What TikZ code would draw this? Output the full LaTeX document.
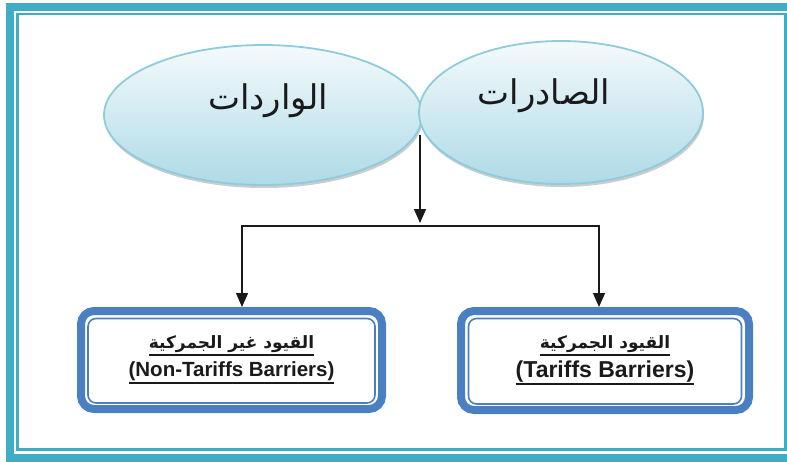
\documentclass[tikz,border=0pt]{standalone}
\usepackage{fontspec}
\usetikzlibrary{shapes.geometric,shadows,arrows.meta,calc}
\TeXXeTstate=1
\newfontfamily\arabicfont[Script=Arabic]{DejaVu Sans}
\newfontfamily\latinfont{Liberation Sans}
% underline with a heavier bar
\newcommand{\barline}[1]{\vtop{\hbox{#1}\kern1.2pt\hrule height 1.8pt}}

\definecolor{frameteal}{HTML}{41ACC6}
\definecolor{bubbleline}{HTML}{8ECCDC}
\definecolor{bubbletop}{HTML}{F4FAFC}
\definecolor{bubblebot}{HTML}{AEDAE7}
\definecolor{boxblue}{HTML}{4A80C2}
\definecolor{inkblack}{HTML}{1A1A1A}

\tikzset{
  bubble/.style={ellipse, draw=bubbleline, line width=1.8pt, top color=bubbletop, bottom color=bubblebot,
    drop shadow={shadow xshift=1pt, shadow yshift=-3pt, fill=black!40}},
  bubbletext/.style={font=\arabicfont\fontsize{34}{38}\selectfont, text=inkblack},
  barrierbox/.style={rectangle, rounded corners=13pt, draw=boxblue, line width=8pt, fill=white, align=center, inner sep=0pt, text=inkblack},
  innerrim/.style={draw=boxblue, line width=1.6pt, rounded corners=8pt},
  link/.style={draw=inkblack, line width=1.4pt},
  linkarrow/.style={link, -{Triangle[length=14pt,width=12pt]}},
}

\begin{document}
\begin{tikzpicture}[x=1pt, y=-1pt]
    \useasboundingbox (0,0) rectangle (787,461);
    \clip (0,0) rectangle (787,461);

    % outer frame
    \draw[frameteal, line width=8pt] (9.5,7) rectangle (795,457.5);
    \draw[frameteal, line width=2.5pt] (17.5,13.75) rectangle (785.5,449.5);

    % the two ellipses
    \node[bubble, minimum width=318pt, minimum height=140pt,
      label={[bubbletext, xshift=5pt, yshift=14pt]center:\beginR الواردات\endR}] (imports) at (263,115) {};
    \node[bubble, minimum width=284pt, minimum height=143pt,
      label={[bubbletext, xshift=-17pt, yshift=17pt]center:\beginR الصادرات\endR}] (exports) at (561,112.5) {};

    % the two boxes
    \node[barrierbox, minimum width=301pt, minimum height=98pt] (nontariff) at (231.5,360)
      {{\arabicfont\bfseries\fontsize{17}{20}\selectfont\barline{\beginR القيود غير الجمركية\endR}}\\[5pt]
       {\latinfont\bfseries\fontsize{20.5}{23}\selectfont\barline{(Non-Tariffs Barriers)}}};
    \node[barrierbox, minimum width=288pt, minimum height=99pt] (tariff) at (605,360.5)
      {{\arabicfont\bfseries\fontsize{17}{20}\selectfont\barline{\beginR القيود الجمركية\endR}}\\[4pt]
       {\latinfont\bfseries\fontsize{23}{25}\selectfont\barline{(Tariffs Barriers)}}};
    \draw[innerrim] ($(nontariff.north west)+(11,11.5)$) rectangle ($(nontariff.south east)+(-11,-10)$);
    \draw[innerrim] ($(tariff.north west)+(11.5,11.5)$) rectangle ($(tariff.south east)+(-11.5,-10)$);

    % connectors
    \coordinate (join) at (420,135);
    \coordinate (fork) at (420,226);
    \draw[linkarrow] (join) -- ([yshift=3pt]fork);
    \draw[linkarrow] (fork) -| ([xshift=10.5pt]nontariff.north);
    \draw[linkarrow] (fork) -| ([xshift=-6pt]tariff.north);
\end{tikzpicture}
\end{document}
